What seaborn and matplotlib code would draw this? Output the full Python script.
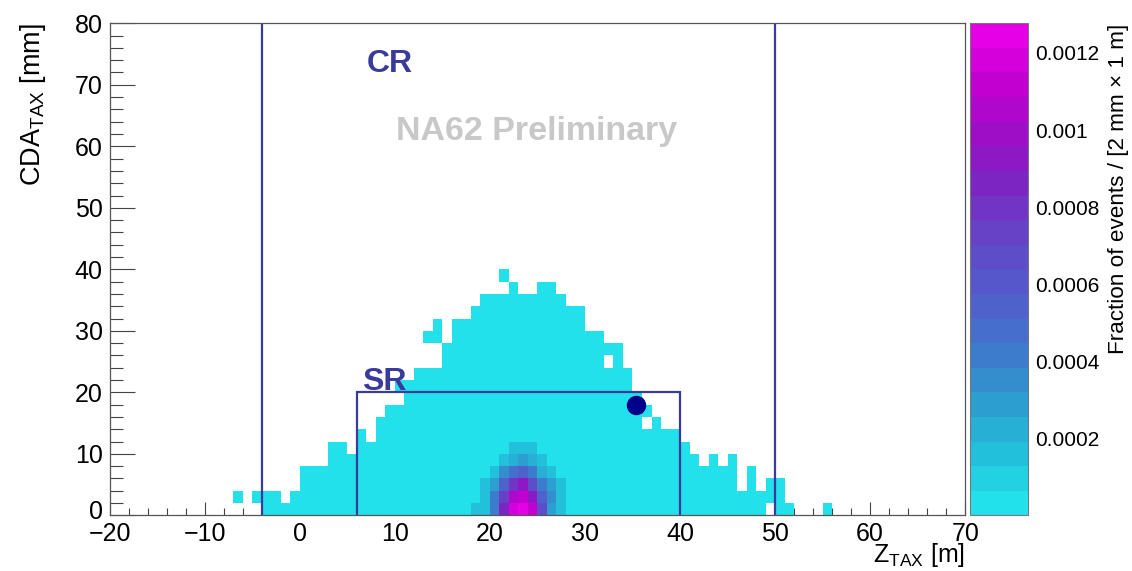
import numpy as np
import pandas as pd
import matplotlib
matplotlib.use("Agg")
import matplotlib.pyplot as plt
import seaborn as sns
from matplotlib.colors import LinearSegmentedColormap
from matplotlib.ticker import MultipleLocator
from matplotlib.transforms import ScaledTranslation

# ---------------- data ----------------
# low edge (m) of each 1 m Z_TAX column and the filled CDA height (mm) of the sparse region
col_z = [-4, -3, -2, -1, 0, 1, 2, 3, 4, 5, 6, 7, 8, 9, 10, 11, 12, 13, 14, 15,
         16, 17, 18, 19, 20, 21, 22, 23, 24, 25, 26, 27, 28, 29, 30, 31, 32, 33,
         34, 35, 36, 37, 38, 39, 40, 41, 42, 43, 44, 45, 46, 47, 48, 50, 51, 55]
col_top = [4, 4, 2, 4, 8, 8, 8, 12, 12, 10, 14, 12, 16, 18, 18, 22, 24, 24, 24, 28,
           32, 32, 34, 36, 36, 36, 38, 36, 36, 38, 38, 36, 34, 34, 30, 30, 28, 28,
           24, 20, 18, 16, 14, 14, 12, 10, 8, 10, 8, 10, 4, 8, 4, 6, 2, 2]
# isolated filled cells (z low edge, cda low edge)
extra_z = [-7, -5, 10, 13, 14, 14, 21, 49, 49]
extra_cda = [2, 2, 20, 28, 28, 30, 38, 2, 4]
# empty cells inside the filled columns
hole_z = [32, 36]
hole_cda = [24, 14]
# sparse-cell content (fraction of events)
base_value = 0.00003

# dense core: rows of CDA low edge, first z column, values in units of 1e-4
peak_cda = [0, 2, 4, 6, 8, 10]
peak_z0 = [18, 19, 19, 20, 21, 22]
peak_vals = [
    [1.6, 1.6, 4.2, 8.6, 11.8, 12.7, 11.2, 6.7, 2.9, 1.6],
    [1.6, 4.2, 7.3, 10.5, 11.2, 9.3, 5.4, 3.5, 1.6],
    [1.6, 2.9, 5.4, 8.0, 9.3, 6.7, 4.2, 2.9, 1.6],
    [1.6, 3.5, 4.8, 5.4, 4.2, 2.2, 1.6],
    [1.6, 2.2, 2.9, 2.2, 1.6],
    [1.6, 1.6, 1.6],
]

# observed event
event_z = [35.35]
event_cda = [17.9]

# region boundaries
sr_z = [6, 40]
sr_cda = 20
cr_z = [-4, 50]

z_max_color = 0.001277
cbar_ticks = [0.0002, 0.0004, 0.0006, 0.0008, 0.0010, 0.0012]
cbar_ticklabels = ["0.0002", "0.0004", "0.0006", "0.0008", "0.001", "0.0012"]
x_ticks = list(range(-20, 71, 10))
y_ticks = list(range(0, 81, 10))

# ---------------- build cells ----------------
cells = {}
for z, top in zip(col_z, col_top):
    for c in range(0, top, 2):
        cells[(z, c)] = base_value
for z, c in zip(extra_z, extra_cda):
    cells[(z, c)] = base_value
for z, c in zip(hole_z, hole_cda):
    cells.pop((z, c), None)
for c, z0, vals in zip(peak_cda, peak_z0, peak_vals):
    for i, v in enumerate(vals):
        cells[(z0 + i, c)] = v * 1e-4

df = pd.DataFrame([(z + 0.5, c + 1.0, w) for (z, c), w in cells.items()],
                  columns=["z", "cda", "w"])

# ---------------- style ----------------
sns.set_style("white")
plt.rcParams["font.family"] = ["Liberation Sans", "DejaVu Sans"]
plt.rcParams["mathtext.fontset"] = "custom"
plt.rcParams["mathtext.rm"] = "Liberation Sans"
plt.rcParams["mathtext.it"] = "Liberation Sans:italic"
plt.rcParams["mathtext.bf"] = "Liberation Sans:bold"
plt.rcParams["text.color"] = "black"
plt.rcParams["axes.labelcolor"] = "black"
plt.rcParams["xtick.color"] = "black"
plt.rcParams["ytick.color"] = "black"

anchor_cols = ["#22E1EA", "#22C2DB", "#2AA2D0", "#3A80CC", "#4C66CC", "#5A52CA",
               "#6A3EC6", "#8020C2", "#A00CC6", "#C400D2", "#E600E6"]
cmap = LinearSegmentedColormap.from_list("na62", anchor_cols).resampled(20)

line_col = "#3A3A9C"

fig = plt.figure(figsize=(11.32, 5.71), dpi=100)
ax = fig.add_axes([0.0968, 0.0975, 0.7559, 0.8617])
cax = fig.add_axes([0.8569, 0.0975, 0.0512, 0.8617])

sns.histplot(data=df, x="z", y="cda", weights="w", binwidth=(1, 2),
             binrange=((-20, 70), (0, 80)), cmap=cmap, thresh=0,
             cbar=True, cbar_ax=cax, ax=ax)
mesh = ax.collections[0]
mesh.set_clim(0, z_max_color)

# regions
ax.plot([sr_z[0], sr_z[0], sr_z[1], sr_z[1]], [0, sr_cda, sr_cda, 0],
        color=line_col, lw=1.6, solid_joinstyle="miter")
for zc in cr_z:
    ax.axvline(zc, color=line_col, lw=1.6)

ax.plot(event_z, event_cda, "o", ms=13, color="#00008B", mec="#00008B")

ax.text(7.0, 72.1, "CR", fontsize=23, fontweight="bold", color=line_col,
        ha="left", va="baseline")
ax.text(6.6, 20.4, "SR", fontsize=23, fontweight="bold", color=line_col,
        ha="left", va="baseline")
ax.text(10.1, 61.0, "NA62 Preliminary", fontsize=24.5, fontweight="bold",
        color="#C8C8C8", ha="left", va="baseline")

ax.set_xlim(-20, 70)
ax.set_ylim(0, 80)
ax.set_xticks(x_ticks)
ax.set_yticks(y_ticks)
ax.xaxis.set_minor_locator(MultipleLocator(2))
ax.yaxis.set_minor_locator(MultipleLocator(2))
ax.tick_params(axis="x", which="major", direction="in", length=9.5, width=0.8,
               bottom=True, top=False, labelsize=18, pad=5, color="#444444")
ax.tick_params(axis="x", which="minor", direction="in", length=4.7, width=0.8,
               bottom=True, top=False, color="#444444")
ax.tick_params(axis="y", which="major", direction="in", length=18, width=0.8,
               left=True, right=False, labelsize=18, pad=5, color="#444444")
ax.tick_params(axis="y", which="minor", direction="in", length=9, width=0.8,
               left=True, right=False, color="#444444")
for s in ax.spines.values():
    s.set_color("#555555")
    s.set_linewidth(0.9)

# lift the y "0" label slightly so it clears the x tick labels
lab0 = ax.yaxis.get_major_ticks()[0].label1
lab0.set_transform(lab0.get_transform() + ScaledTranslation(0, 4 / 72, fig.dpi_scale_trans))

ax.set_xlabel(r"Z$_{\mathregular{TAX}}$ [m]", fontsize=18, loc="right")
ax.set_ylabel(r"CDA$_{\mathregular{TAX}}$ [mm]", fontsize=19.5, loc="top")
ax.xaxis.set_label_coords(1.0, -0.053)
ax.yaxis.set_label_coords(-0.072, 1.0)

cbar = mesh.colorbar
cbar.set_ticks(cbar_ticks)
cbar.set_ticklabels(cbar_ticklabels)
cbar.outline.set_edgecolor("#777777")
cbar.outline.set_linewidth(0.8)
cax.minorticks_off()
cax.tick_params(axis="y", which="major", direction="in", length=20, width=0.8,
                right=True, left=False, color="#333333", labelsize=15, pad=5)
cax.set_ylabel("Fraction of events / [2 mm \u00d7 1 m]", fontsize=16.2, loc="top")
cax.yaxis.set_label_position("right")
cax.yaxis.set_label_coords(2.38, 1.0)

fig.savefig("out.png", dpi=100)
